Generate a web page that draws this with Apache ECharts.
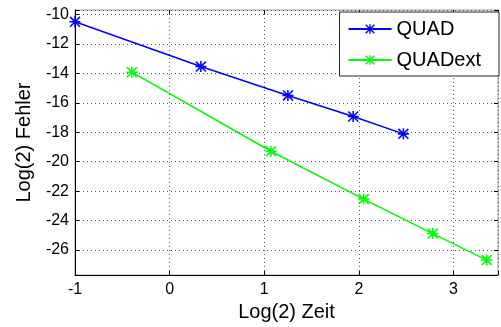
<!DOCTYPE html>
<html><head><meta charset="utf-8">
<script src="https://cdn.jsdelivr.net/npm/echarts@6/dist/echarts.min.js"></script>
<style>html,body{margin:0;padding:0;background:#fff}#c{width:501px;height:327px}</style>
</head><body><div id="c"></div>
<script>
const seriesNames = ['QUAD', 'QUADext'];
const quadX = [-1, 0.33, 1.25, 1.94, 2.47];
const quadY = [-10.5, -13.54, -15.5, -16.93, -18.11];
const quadExtX = [-0.4, 1.07, 2.05, 2.78, 3.35];
const quadExtY = [-13.92, -19.29, -22.54, -24.88, -26.68];
const xTicks = [-1, 0, 1, 2, 3];
const yTicks = [-26, -24, -22, -20, -18, -16, -14, -12, -10];
const xLabel = 'Log(2) Zeit';
const yLabel = 'Log(2) Fehler';

const star = 'path://M4.3 0H5.7V10H4.3Z M0 4.3H10V5.7H0Z M0 1L1 0L10 9L9 10Z M9 0L10 1L1 10L0 9Z';
const pair = (xs, ys) => xs.map((x, i) => [x, ys[i]]);
const font = 'Liberation Sans, Arial, sans-serif';
const grid = {left: 75, right: 1.5, top: 10, bottom: 48, show: true, borderColor: '#999', borderWidth: 1, backgroundColor: '#fff'};
const split = {show: true, lineStyle: {color: '#555', type: [1, 3], width: 1}};

const chart = echarts.init(document.getElementById('c'), null, {renderer: 'canvas'});
chart.setOption({
  animation: false,
  backgroundColor: '#fff',
  grid: grid,
  legend: {
    right: 2, top: 12, orient: 'vertical',
    data: seriesNames,
    backgroundColor: '#fff', borderColor: '#222', borderWidth: 1,
    padding: [6, 18, 5, 8], itemWidth: 43, itemHeight: 12, itemGap: 9,
    textStyle: {fontFamily: font, fontSize: 20, color: '#000', lineHeight: 22}
  },
  xAxis: [{
    type: 'value', min: -1, max: 3.47, interval: 1,
    name: xLabel, nameLocation: 'middle', nameGap: 22,
    nameTextStyle: {fontFamily: font, fontSize: 20, color: '#000'},
    axisLine: {show: true, onZero: false, lineStyle: {color: '#000', width: 1}},
    axisTick: {show: true, inside: true, length: 4, lineStyle: {color: '#000'}},
    axisLabel: {fontFamily: font, fontSize: 16, color: '#000', margin: 6,
      formatter: v => xTicks.includes(v) ? String(v) : ''},
    splitLine: split
  }, {
    type: 'value', min: -1, max: 3.47, interval: 1, position: 'top',
    axisLine: {show: false, onZero: false}, axisLabel: {show: false}, splitLine: {show: false},
    axisTick: {show: true, inside: true, length: 4, lineStyle: {color: '#000'}}
  }],
  yAxis: [{
    type: 'value', min: -27.7, max: -9.7, splitNumber: 9,
    name: yLabel, nameLocation: 'middle', nameGap: 38,
    nameTextStyle: {fontFamily: font, fontSize: 20, color: '#000'},
    axisLine: {show: true, onZero: false, lineStyle: {color: '#000', width: 1}},
    axisTick: {show: true, inside: true, length: 4, lineStyle: {color: '#000'}},
    axisLabel: {fontFamily: font, fontSize: 16, color: '#000', margin: 6,
      formatter: v => yTicks.includes(v) ? String(v) : ''},
    splitLine: split
  }, {
    type: 'value', min: -27.7, max: -9.7, splitNumber: 9, position: 'right',
    axisLine: {show: false, onZero: false}, axisLabel: {show: false}, splitLine: {show: false},
    axisTick: {show: true, inside: true, length: 4, lineStyle: {color: '#000'}}
  }],
  series: [{
    name: seriesNames[0], type: 'line', data: pair(quadX, quadY),
    xAxisIndex: 0, yAxisIndex: 0,
    symbol: star, symbolSize: 11,
    lineStyle: {color: '#0000ff', width: 1.5},
    itemStyle: {color: '#0000ff'}
  }, {
    name: seriesNames[1], type: 'line', data: pair(quadExtX, quadExtY),
    xAxisIndex: 0, yAxisIndex: 0,
    symbol: star, symbolSize: 11,
    lineStyle: {color: '#00ff00', width: 1.5},
    itemStyle: {color: '#00ff00'}
  }]
});
</script></body></html>
